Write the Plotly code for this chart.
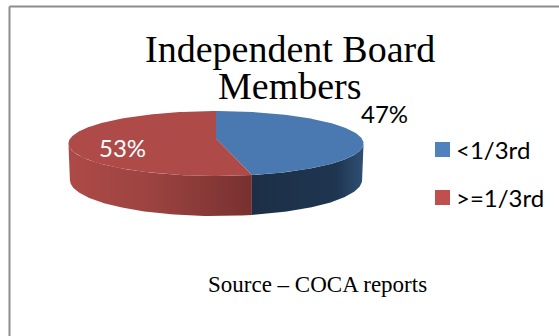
import numpy as np
import plotly.graph_objects as go

categories = ["<1/3rd", ">=1/3rd"]
shares = [47, 53]
title_lines = ["Independent Board", "Members"]
source_note = "Source – COCA reports"

top_colors = ["#4a79b1", "#ae4a47"]
legend_colors = ["#4f81bd", "#c0504d"]
wall_scales = [
    [[0, "#1c2f46"], [0.75, "#1f3550"], [1, "#2f4f74"]],
    [[0, "#ad4a47"], [0.45, "#9c4341"], [1, "#773130"]],
]

W, H = 559, 336
CX, CY = 216.0, 138.5      # slice apex on the top face
RX, RY = 145.8, 31.7       # tilted disc radii
TILT = 0.154               # perspective strength
FORESHORTEN = 0.06         # angular compression towards the viewer
DROP = 36.0                # offset of the lower rim below the top face
FOOT_X, FOOT_Y = 0.99, 1.108  # lower rim proportions relative to the top rim
WALL_FROM, WALL_TO = 100, 260  # rim angles where the silhouette is widest


def rim(angles, drop=0.0, sx=1.0, sy=1.0):
    """Project clockwise-from-top angles (degrees) onto the disc's rim."""
    t = np.radians(angles)
    t = t + FORESHORTEN * np.sin(2 * t)
    u, v = np.sin(t), np.cos(t)
    w = 1 + TILT * v
    return CX + sx * RX * u / w, CY - sy * RY * v / w + drop


fig = go.Figure()

edges = np.cumsum([0] + shares) * 3.6

# Cylinder wall: only the part of each slice facing the viewer
for i in range(len(shares)):
    a0, a1 = max(edges[i], WALL_FROM), min(edges[i + 1], WALL_TO)
    arc = np.linspace(a0, a1, 90)
    xt, yt = rim(arc)
    xb, yb = rim(arc[::-1], DROP, FOOT_X, FOOT_Y)
    # keep the shared seam vertical
    seam = edges[i + 1] if i == 0 else edges[i]
    xs = rim(np.array([seam]))[0][0]
    if i == 0:
        xb[0] = xs
    else:
        xb[-1] = xs
    fig.add_trace(go.Scatter(
        x=np.r_[xt, xb], y=np.r_[yt, yb], mode="lines", fill="toself",
        line=dict(width=0), hoverinfo="skip", showlegend=False,
        fillgradient=dict(type="horizontal", colorscale=wall_scales[i]),
    ))

# Top face of each slice
for i in range(len(shares)):
    arc = np.linspace(edges[i], edges[i + 1], 180)
    xt, yt = rim(arc)
    fig.add_trace(go.Scatter(
        x=np.r_[CX, xt, CX], y=np.r_[CY, yt, CY], mode="lines", fill="toself",
        fillcolor=top_colors[i], line=dict(width=0),
        hoverinfo="skip", showlegend=False,
    ))

annotations = []


def text(x, y, s, family, size, color="#000000", anchor="center"):
    annotations.append(dict(
        x=x, y=y, xref="x", yref="y", text=s.replace("<", "&lt;"), showarrow=False,
        xanchor=anchor, yanchor="middle", font=dict(family=family, size=size, color=color),
    ))


SERIF = "Liberation Serif"
SANS = "Lato"

text(290, 49, title_lines[0], SERIF, 38)
text(290, 86, title_lines[1], SERIF, 38)
text(384, 113, f"{shares[0]}%", SANS, 24)
text(122, 147, f"{shares[1]}%", SANS, 24, "#ffffff")
text(317.5, 284, source_note, SERIF, 23)

# Legend rows
shapes = []
for row, (name, color) in enumerate(zip(categories, legend_colors)):
    y = 149.5 + row * 48
    shapes.append(dict(type="rect", xref="x", yref="y", x0=435, x1=450, y0=y - 7.5, y1=y + 7.5,
                       fillcolor=color, line=dict(width=0)))
    text(454, y - 0.5, name, SANS, 24, anchor="left")

# Chart frame: top and left rules, running off the page on the other sides
frame = "#8c8c8c"
shapes.append(dict(type="line", xref="x", yref="y", x0=9.5, x1=W, y0=6.5, y1=6.5,
                   line=dict(color=frame, width=2)))
shapes.append(dict(type="line", xref="x", yref="y", x0=9.5, x1=9.5, y0=6.5, y1=H,
                   line=dict(color=frame, width=2)))

fig.update_layout(
    width=W, height=H, margin=dict(l=0, r=0, t=0, b=0),
    paper_bgcolor="#ffffff", plot_bgcolor="#ffffff",
    xaxis=dict(range=[0, W], visible=False, fixedrange=True),
    yaxis=dict(range=[H, 0], visible=False, fixedrange=True),
    shapes=shapes, annotations=annotations,
)

fig.write_html("out.html", config=dict(displayModeBar=False))
